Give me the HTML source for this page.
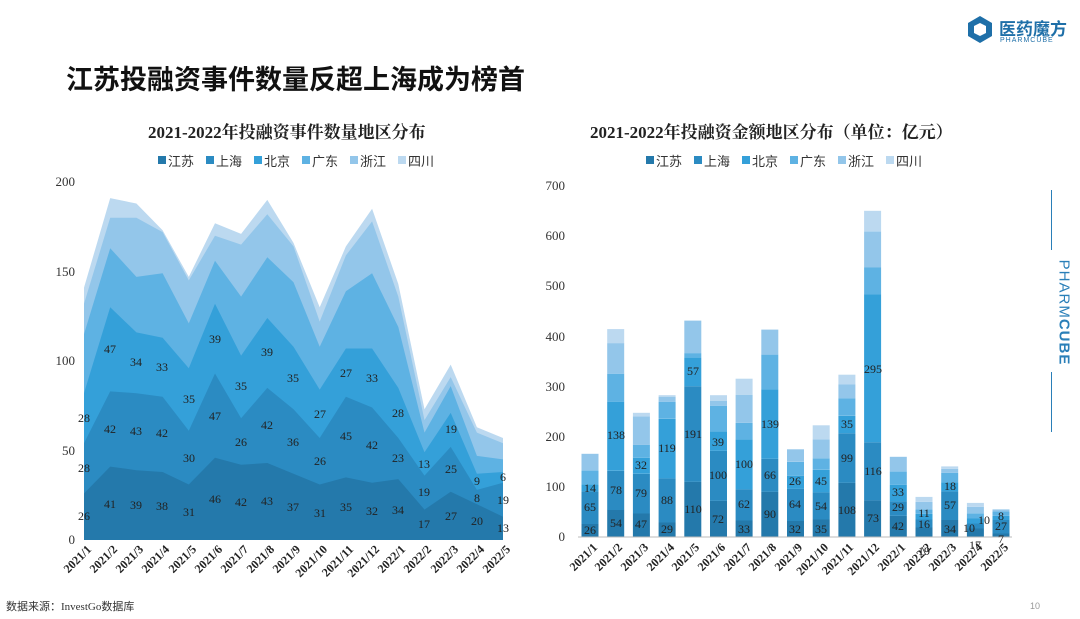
<!DOCTYPE html>
<html><head><meta charset="utf-8"><style>
body{margin:0;background:#fff;}
#w{position:relative;width:1080px;height:619px;overflow:hidden;background:#fff;font-family:"Liberation Serif","Noto Serif CJK SC",serif;}
.t{position:absolute;white-space:nowrap;}
</style></head><body><div id="w">
<div class="t" style="left:66px;top:58px;font:bold 27px 'Liberation Sans','Noto Sans CJK SC',sans-serif;color:#111;">江苏投融资事件数量反超上海成为榜首</div>
<svg style="position:absolute;left:965px;top:14px" width="30" height="30" viewBox="0 0 30 30"><polygon points="15,2 27,9 27,22 15,29 3,22 3,9" fill="#1e6fa8"/><polygon points="15,9 21,12 21,19 15,22 9,19 9,12" fill="#fff"/></svg>
<div class="t" style="left:999px;top:15px;font:bold 17px 'Noto Sans CJK SC',sans-serif;color:#1e6fa8;">医药魔方</div>
<div class="t" style="left:1000px;top:37px;font:7px 'Liberation Sans',sans-serif;color:#1e6fa8;letter-spacing:1px;">PHARMCUBE</div>
<div style="position:absolute;left:1051px;top:190px;width:1px;height:60px;background:#2a7fb8"></div>
<div style="position:absolute;left:1051px;top:372px;width:1px;height:60px;background:#2a7fb8"></div>
<div class="t" style="left:1011px;top:304px;transform:rotate(90deg);font:15px 'Liberation Sans',sans-serif;color:#2a7fb8;letter-spacing:1px;">PHARM<b>CUBE</b></div>
<div class="t" style="left:148px;top:118px;font:bold 17px 'Liberation Serif','Noto Serif CJK SC',serif;color:#222;">2021-2022年投融资事件数量地区分布</div>
<div class="t" style="left:590px;top:118px;font:bold 17px 'Liberation Serif','Noto Serif CJK SC',serif;color:#222;">2021-2022年投融资金额地区分布（单位：亿元）</div>
<div class="t" style="left:6px;top:598px;font:11px 'Liberation Serif','Noto Sans CJK SC',serif;color:#333;">数据来源：InvestGo数据库</div>
<div class="t" style="left:1030px;top:601px;font:9px 'Liberation Sans',sans-serif;color:#999;">10</div>
<svg id="s" style="position:absolute;left:0;top:0" width="1080" height="619" font-family="Liberation Serif, Noto Sans CJK SC, serif">
<g id="g"></g>
<g font-size="13" fill="#333" font-family="Liberation Sans, Noto Sans CJK SC, sans-serif">
<rect x="158" y="156" width="8" height="8" fill="#2479ab"/><text x="168" y="166">江苏</text>
<rect x="206" y="156" width="8" height="8" fill="#2b8bc2"/><text x="216" y="166">上海</text>
<rect x="254" y="156" width="8" height="8" fill="#34a0d9"/><text x="264" y="166">北京</text>
<rect x="302" y="156" width="8" height="8" fill="#5eb2e3"/><text x="312" y="166">广东</text>
<rect x="350" y="156" width="8" height="8" fill="#93c6ea"/><text x="360" y="166">浙江</text>
<rect x="398" y="156" width="8" height="8" fill="#bcd9f0"/><text x="408" y="166">四川</text>
<rect x="646" y="156" width="8" height="8" fill="#2479ab"/><text x="656" y="166">江苏</text>
<rect x="694" y="156" width="8" height="8" fill="#2b8bc2"/><text x="704" y="166">上海</text>
<rect x="742" y="156" width="8" height="8" fill="#34a0d9"/><text x="752" y="166">北京</text>
<rect x="790" y="156" width="8" height="8" fill="#5eb2e3"/><text x="800" y="166">广东</text>
<rect x="838" y="156" width="8" height="8" fill="#93c6ea"/><text x="848" y="166">浙江</text>
<rect x="886" y="156" width="8" height="8" fill="#bcd9f0"/><text x="896" y="166">四川</text>
</g>
<g font-size="13" fill="#333" text-anchor="end">
<text x="75" y="186">200</text><text x="75" y="276">150</text><text x="75" y="365">100</text><text x="75" y="455">50</text><text x="75" y="544">0</text>
<text x="565" y="190">700</text><text x="565" y="240">600</text><text x="565" y="290">500</text><text x="565" y="341">400</text><text x="565" y="391">300</text><text x="565" y="441">200</text><text x="565" y="491">100</text><text x="565" y="541">0</text>
</g>
<g font-size="12" fill="#222" text-anchor="middle" dominant-baseline="middle">
<text x="84" y="517">26</text><text x="110" y="505">41</text><text x="136" y="506">39</text><text x="162" y="507">38</text><text x="189" y="513">31</text><text x="215" y="500">46</text><text x="241" y="503">42</text><text x="267" y="502">43</text><text x="293" y="508">37</text><text x="320" y="514">31</text><text x="346" y="508">35</text><text x="372" y="512">32</text><text x="398" y="511">34</text><text x="424" y="525">17</text><text x="451" y="517">27</text><text x="477" y="522">20</text><text x="503" y="529">13</text>
<text x="84" y="469">28</text><text x="110" y="430">42</text><text x="136" y="432">43</text><text x="162" y="434">42</text><text x="189" y="459">30</text><text x="215" y="417">47</text><text x="241" y="443">26</text><text x="267" y="426">42</text><text x="293" y="443">36</text><text x="320" y="462">26</text><text x="346" y="437">45</text><text x="372" y="446">42</text><text x="398" y="459">23</text><text x="424" y="493">19</text><text x="451" y="470">25</text><text x="477" y="499">8</text><text x="503" y="501">19</text>
<text x="84" y="419">28</text><text x="110" y="350">47</text><text x="136" y="363">34</text><text x="162" y="368">33</text><text x="189" y="400">35</text><text x="215" y="340">39</text><text x="241" y="387">35</text><text x="267" y="353">39</text><text x="293" y="379">35</text><text x="320" y="415">27</text><text x="346" y="374">27</text><text x="372" y="379">33</text><text x="398" y="414">28</text><text x="424" y="465">13</text><text x="451" y="430">19</text><text x="477" y="482">9</text><text x="503" y="478">6</text>
<text x="590" y="531">26</text><text x="590" y="508">65</text><text x="590" y="489">14</text>
<text x="616" y="524">54</text><text x="616" y="491">78</text><text x="616" y="436">138</text>
<text x="641" y="525">47</text><text x="641" y="494">79</text><text x="641" y="466">32</text>
<text x="667" y="530">29</text><text x="667" y="501">88</text><text x="667" y="449">119</text>
<text x="693" y="510">110</text><text x="693" y="435">191</text><text x="693" y="372">57</text>
<text x="718" y="520">72</text><text x="718" y="476">100</text><text x="718" y="443">39</text>
<text x="744" y="530">33</text><text x="744" y="505">62</text><text x="744" y="465">100</text>
<text x="770" y="515">90</text><text x="770" y="476">66</text><text x="770" y="425">139</text>
<text x="795" y="530">32</text><text x="795" y="505">64</text><text x="795" y="482">26</text>
<text x="821" y="530">35</text><text x="821" y="507">54</text><text x="821" y="482">45</text>
<text x="847" y="511">108</text><text x="847" y="459">99</text><text x="847" y="425">35</text>
<text x="873" y="519">73</text><text x="873" y="472">116</text><text x="873" y="370">295</text>
<text x="898" y="527">42</text><text x="898" y="508">29</text><text x="898" y="493">33</text>
<text x="924" y="552">19</text><text x="924" y="525">16</text><text x="924" y="514">11</text>
<text x="950" y="530">34</text><text x="950" y="506">57</text><text x="950" y="487">18</text>
<text x="975" y="546">17</text><text x="969" y="529">10</text><text x="984" y="521">10</text>
<text x="1001" y="540">7</text><text x="1001" y="527">27</text><text x="1001" y="517">8</text>
</g>
<g font-size="12" font-weight="bold" fill="#222" text-anchor="end">
<text transform="translate(92,550) rotate(-45)">2021/1</text><text transform="translate(118,550) rotate(-45)">2021/2</text><text transform="translate(144,550) rotate(-45)">2021/3</text><text transform="translate(170,550) rotate(-45)">2021/4</text><text transform="translate(197,550) rotate(-45)">2021/5</text><text transform="translate(223,550) rotate(-45)">2021/6</text><text transform="translate(249,550) rotate(-45)">2021/7</text><text transform="translate(275,550) rotate(-45)">2021/8</text><text transform="translate(301,550) rotate(-45)">2021/9</text><text transform="translate(328,550) rotate(-45)">2021/10</text><text transform="translate(354,550) rotate(-45)">2021/11</text><text transform="translate(380,550) rotate(-45)">2021/12</text><text transform="translate(406,550) rotate(-45)">2022/1</text><text transform="translate(432,550) rotate(-45)">2022/2</text><text transform="translate(459,550) rotate(-45)">2022/3</text><text transform="translate(485,550) rotate(-45)">2022/4</text><text transform="translate(511,550) rotate(-45)">2022/5</text>
<text transform="translate(598,548) rotate(-45)">2021/1</text><text transform="translate(623,548) rotate(-45)">2021/2</text><text transform="translate(649,548) rotate(-45)">2021/3</text><text transform="translate(675,548) rotate(-45)">2021/4</text><text transform="translate(700,548) rotate(-45)">2021/5</text><text transform="translate(726,548) rotate(-45)">2021/6</text><text transform="translate(752,548) rotate(-45)">2021/7</text><text transform="translate(777,548) rotate(-45)">2021/8</text><text transform="translate(803,548) rotate(-45)">2021/9</text><text transform="translate(829,548) rotate(-45)">2021/10</text><text transform="translate(854,548) rotate(-45)">2021/11</text><text transform="translate(880,548) rotate(-45)">2021/12</text><text transform="translate(906,548) rotate(-45)">2022/1</text><text transform="translate(932,548) rotate(-45)">2022/2</text><text transform="translate(957,548) rotate(-45)">2022/3</text><text transform="translate(983,548) rotate(-45)">2022/4</text><text transform="translate(1009,548) rotate(-45)">2022/5</text>
</g>
</svg>
<script>
(function(){
var C=["#2479ab","#2b8bc2","#34a0d9","#5eb2e3","#93c6ea","#bcd9f0"];
var cum=[
[26,41,39,38,31,46,42,43,37,31,35,32,34,17,27,20,13],
[54,83,82,80,61,93,68,85,73,57,80,74,57,36,52,28,32],
[82,130,116,113,96,132,103,124,108,84,107,107,85,49,71,37,38],
[115,163,147,149,121,156,136,158,144,108,139,149,119,60,86,47,45],
[132,180,180,172,145,170,165,182,164,122,159,178,136,67,91,60,54],
[141,191,188,173,147,177,171,190,166,130,164,185,143,73,98,63,57]];
var h="";
for(var L=5;L>=0;L--){var p="84,540 ";for(var i=0;i<17;i++){p+=(84+26.19*i).toFixed(1)+","+(540-1.79*cum[L][i]).toFixed(1)+" ";}p+="503,540";h+='<polygon points="'+p+'" fill="'+C[L]+'"/>';}
var B=[[26,91,105,133,166,166],[54,132,270,326,387,415],[47,126,158,184,241,248],[29,117,236,270,280,283],[110,301,358,367,432,432],[72,172,211,262,272,283],[33,95,195,228,284,316],[90,156,295,364,414,414],[32,96,122,150,175,175],[35,89,134,157,195,223],[108,207,242,277,305,324],[73,189,484,538,610,651],[42,71,104,131,160,160],[19,35,46,55,70,80],[34,91,109,128,136,141],[17,27,37,47,60,68],[7,34,42,51,55,55]];
for(var i=0;i<17;i++){var x=590+25.69*i-8.5,prev=0;for(var L=0;L<6;L++){var v=B[i][L];if(v>prev){h+='<rect x="'+x.toFixed(1)+'" y="'+(537-0.501*v).toFixed(1)+'" width="17" height="'+(0.501*(v-prev)).toFixed(1)+'" fill="'+C[L]+'"/>';}prev=v;}}
h+='<line x1="578" y1="537" x2="1012" y2="537" stroke="#bbb"/>';
document.getElementById("g").innerHTML=h;
})();
</script>
</div></body></html>
